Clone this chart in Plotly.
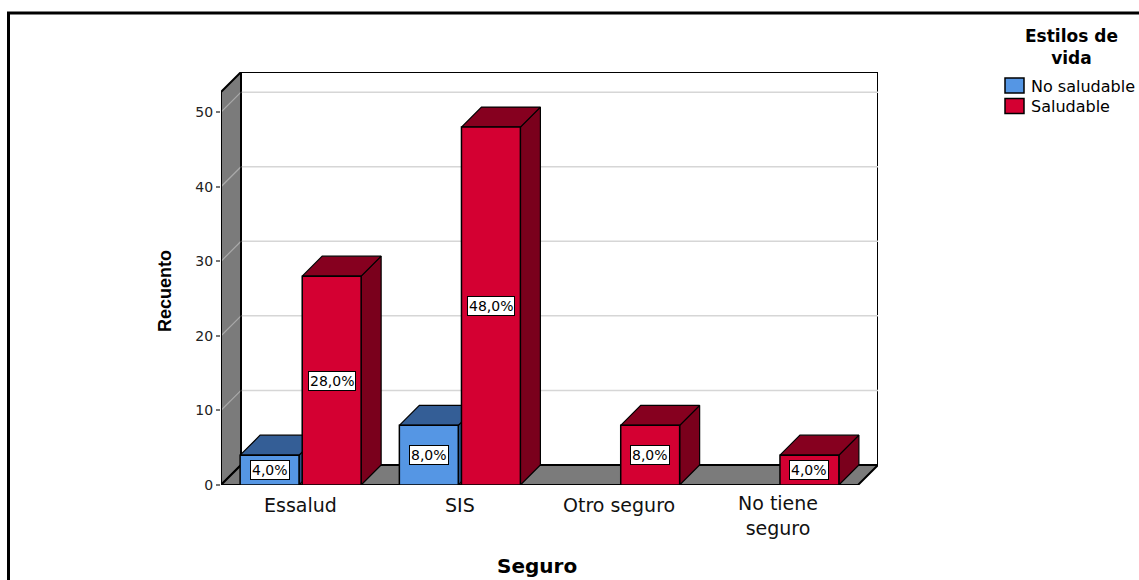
import plotly.graph_objects as go

# ---- data -------------------------------------------------------------
categories = ["Essalud", "SIS", "Otro seguro", "No tiene seguro"]
category_labels = ["Essalud", "SIS", "Otro seguro", "No tiene<br>seguro"]
series_names = ["No saludable", "Saludable"]
no_saludable = [4, 8, 0, 0]
saludable = [28, 48, 8, 4]
y_ticks = [0, 10, 20, 30, 40, 50]

series_values = [no_saludable, saludable]
total = sum(no_saludable) + sum(saludable)

# ---- styling ----------------------------------------------------------
FRONT = ["#5596e4", "#d40032"]
TOP = ["#345e96", "#86001f"]
SIDE = ["#2c5286", "#7a001c"]
WALL = "#7b7b7b"
GRID_BACK = "#d6d6d6"
GRID_WALL = "#a9a9a9"
FONT = "DejaVu Sans"

# ---- geometry (pixels of the page and of the 3-D frame) --------------
W, H = 1139, 580
L, R, T, B = 221, 878, 72, 485       # plot area incl. the depth of the frame
DEPTH = 20                            # oblique depth in pixels
WALL_TOP = 52.7                       # height of walls in axis units
n = len(categories)
px_per_cat = (R - L - DEPTH) / n
DX = DEPTH / px_per_cat
px_per_unit = (B - T - DEPTH) / WALL_TOP
DY = DEPTH / px_per_unit
BAR_W = 0.37
GAP = 0.01

x_lo, x_hi = -0.5, n - 0.5


def xp(px):
    return (px - L) / (R - L)


def yp(py):
    return (B - py) / (B - T)


fig = go.Figure()


def poly(xs, ys, fill, width=1.2):
    fig.add_trace(go.Scatter(
        x=list(xs) + [xs[0]], y=list(ys) + [ys[0]],
        mode="lines", fill="toself", fillcolor=fill,
        line=dict(color="black", width=width),
        hoverinfo="skip", showlegend=False,
    ))


shapes = []


def shape_path(pts, fill, lw=1.5, color="black", layer="below"):
    d = "M " + " L ".join(f"{x},{y}" for x, y in pts) + " Z"
    shapes.append(dict(type="path", path=d, xref="x", yref="y",
                       fillcolor=fill, line=dict(color=color, width=lw),
                       layer=layer))


def shape_line(x0, y0, x1, y1, color, lw=1.5):
    shapes.append(dict(type="line", xref="x", yref="y", x0=x0, y0=y0,
                       x1=x1, y1=y1, line=dict(color=color, width=lw),
                       layer="below"))


# back wall, left wall, floor
shape_path([(x_lo + DX, DY), (x_hi + DX, DY), (x_hi + DX, WALL_TOP + DY),
            (x_lo + DX, WALL_TOP + DY)], "white", lw=2)
shape_path([(x_lo, 0), (x_lo + DX, DY), (x_lo + DX, WALL_TOP + DY),
            (x_lo, WALL_TOP)], WALL, lw=2)
shape_path([(x_lo, 0), (x_hi, 0), (x_hi + DX, DY), (x_lo + DX, DY)], WALL, lw=2)

# gridlines on the back wall and the left wall
for v in y_ticks[1:]:
    shape_line(x_lo + DX, v + DY, x_hi + DX, v + DY, GRID_BACK, 1.5)
    shape_line(x_lo, v, x_lo + DX, v + DY, GRID_WALL, 1.2)

# re-stroke the frame edges on top of the gridlines
shape_line(x_lo, 0, x_lo, WALL_TOP, "black", 2)
shape_line(x_lo, 0, x_hi, 0, "black", 2)
shape_line(x_lo + DX, DY, x_lo + DX, WALL_TOP + DY, "black", 1.5)

# ---- 3-D bars -----------------------------------------------------------
annotations = []
for c in range(n):
    for s, vals in enumerate(series_values):
        v = vals[c]
        if v <= 0:
            continue
        x0 = c - GAP - BAR_W if s == 0 else c + GAP
        x1 = x0 + BAR_W
        # side face
        poly([x1, x1 + DX, x1 + DX, x1], [0, DY, v + DY, v], SIDE[s])
        # top face
        poly([x0, x1, x1 + DX, x0 + DX], [v, v, v + DY, v + DY], TOP[s])
        # front face
        poly([x0, x1, x1, x0], [0, 0, v, v], FRONT[s], width=1.5)
        pct = f"{v / total * 100:.1f}%".replace(".", ",")
        annotations.append(dict(
            x=(x0 + x1) / 2, y=v / 2, xref="x", yref="y", text=pct,
            showarrow=False, font=dict(family=FONT, size=14, color="black"),
            bgcolor="white", bordercolor="black", borderwidth=1, borderpad=1,
        ))

# category labels under the floor
for c, label in enumerate(category_labels):
    nlines = label.count("<br>") + 1
    annotations.append(dict(
        x=c, xref="x", y=yp(505 + 10 * (nlines - 1)), yref="paper", text=label,
        showarrow=False, xanchor="center", yanchor="middle",
        font=dict(family=FONT, size=19, color="#111"),
    ))

# axis titles
annotations.append(dict(
    x=xp(165), y=yp(291), xref="paper", yref="paper", text="<b>Recuento</b>",
    textangle=-90, showarrow=False, xanchor="center", yanchor="middle",
    font=dict(family="Liberation Sans", size=18, color="black"),
))
annotations.append(dict(
    x=xp(537), y=yp(566), xref="paper", yref="paper", text="<b>Seguro</b>",
    showarrow=False, xanchor="center", yanchor="middle",
    font=dict(family=FONT, size=20, color="black"),
))

# legend
annotations.append(dict(
    x=xp(1071), y=yp(47), xref="paper", yref="paper",
    text="<b>Estilos de<br>vida</b>", showarrow=False, xanchor="center",
    yanchor="middle", font=dict(family=FONT, size=17, color="black"),
))
for i, name in enumerate(series_names):
    top = 78 + 20.5 * i
    shapes.append(dict(type="rect", xref="paper", yref="paper",
                       x0=xp(1005), x1=xp(1024), y0=yp(top), y1=yp(top + 15),
                       fillcolor=FRONT[i], line=dict(color="black", width=1.5),
                       layer="above"))
    annotations.append(dict(
        x=xp(1029), y=yp(top + 8), xref="paper", yref="paper", text=name,
        showarrow=False, xanchor="left", yanchor="middle",
        font=dict(family=FONT, size=16, color="black"),
    ))

# outer frame
shapes.append(dict(type="rect", xref="paper", yref="paper",
                   x0=xp(8.5), x1=xp(W + 30), y0=yp(13), y1=yp(H + 30),
                   line=dict(color="black", width=3), fillcolor="rgba(0,0,0,0)",
                   layer="above"))

fig.update_layout(
    width=W, height=H, autosize=False,
    margin=dict(l=L, r=W - R, t=T, b=H - B, pad=0),
    paper_bgcolor="white", plot_bgcolor="white",
    showlegend=False,
    xaxis=dict(range=[x_lo, x_hi + DX], showgrid=False, zeroline=False,
               showticklabels=False, ticks="", showline=False, fixedrange=True),
    yaxis=dict(range=[0, WALL_TOP + DY], tickvals=y_ticks, ticks="outside",
               ticklen=4, tickcolor="#777", tickwidth=1.5, showgrid=False,
               zeroline=False, showline=False, fixedrange=True,
               tickfont=dict(family=FONT, size=14, color="#222")),
    shapes=shapes, annotations=annotations,
)

fig.write_html("out.html")
